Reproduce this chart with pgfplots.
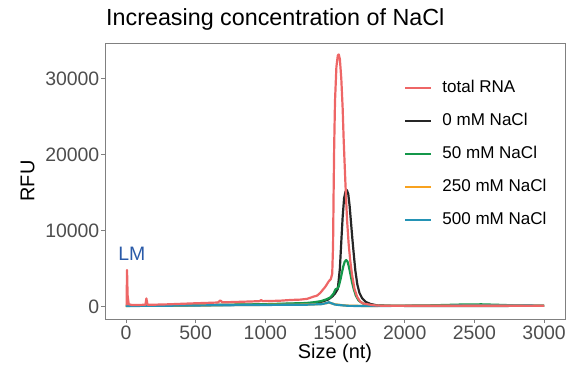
\documentclass[border=0pt]{standalone}
\usepackage{pgfplots}
\pgfplotsset{compat=1.18}
\usepackage{fontspec}
\setmainfont{Liberation Sans}
\definecolor{cred}{HTML}{EE6666}
\definecolor{cblack}{HTML}{262626}
\definecolor{cgreen}{HTML}{14974A}
\definecolor{corange}{HTML}{F8A21F}
\definecolor{cteal}{HTML}{2493B5}
\definecolor{lmblue}{HTML}{2A5AA8}
\definecolor{tickgray}{HTML}{4D4D4D}
\definecolor{framegray}{HTML}{808080}
\begin{document}
\begin{tikzpicture}[x=1bp,y=1bp]
\useasboundingbox (0,0) rectangle (566,367);
\begin{axis}[
  at={(105bp,48bp)}, anchor=south west,
  scale only axis, width=460bp, height=276bp,
  xmin=-150, xmax=3150, ymin=-1650, ymax=34650,
  xtick={0,500,1000,1500,2000,2500,3000},
  ytick={0,10000,20000,30000},
  scaled y ticks=false,
  /pgf/number format/assume math mode=true,
  /pgf/number format/1000 sep={},
  tick pos=left, tick align=outside,
  major tick length=4bp,
  tick style={framegray, line width=0.6bp},
  axis line style={framegray, line width=0.7bp},
  ticklabel style={font=\fontsize{19.5}{20}\selectfont, text=tickgray},
  xticklabel style={inner sep=1bp, yshift=-2bp},
  yticklabel style={inner sep=1.5bp},
  xlabel={Size (nt)},
  ylabel={RFU},
  label style={font=\fontsize{20}{21}\selectfont, text=black},
  xlabel style={inner sep=0pt, yshift=-3bp},
  ylabel style={inner sep=0pt, yshift=9bp},
  title={Increasing concentration of NaCl},
  title style={at={(0,1)}, anchor=base west, inner sep=0pt, yshift=12bp, xshift=1bp, font=\fontsize{23.4}{24}\selectfont},
  legend cell align=left,
  legend image code/.code={\draw[#1, line width=2.2bp] (0bp,0bp) -- (26bp,0bp);},
  legend style={draw=none, fill=none, inner sep=0pt, at={(0.650,0.864)}, anchor=north west,
    font=\fontsize{17.1}{18}\selectfont, row sep=18bp, column sep=10bp,
    nodes={inner xsep=0pt, inner ysep=0pt, text height=12bp, text depth=3bp}},
  every axis plot/.append style={line width=2.2bp, line join=round},
]
\addplot[cblack, forget plot] coordinates {
(0,90)(300,110)(600,170)(1000,260)(1290,380)(1350,480)(1400,600)(1450,900)(1480,1300)(1500,1700)(1520,2300)
(1535,5000)(1545,8500)(1555,11800)(1565,14200)(1575,15100)(1585,15300)(1595,14800)(1605,13200)(1615,11000)
(1625,8800)(1635,6800)(1646,4700)(1660,2900)(1675,1800)(1694,1100)(1720,600)(1754,330)(1800,150)(1900,80)
(2200,60)(2600,70)(3000,80)};
\addplot[cgreen, forget plot] coordinates {
(0,80)(300,120)(600,200)(1000,300)(1290,450)(1347,550)(1400,700)(1440,950)(1467,1200)(1490,1700)(1503,2250)
(1515,2350)(1526,2600)(1540,3600)(1550,4480)(1560,5300)(1570,5900)(1580,6100)(1590,5900)(1600,5200)
(1610,4300)(1622,3200)(1634,2300)(1650,1400)(1670,760)(1700,400)(1730,200)(1800,100)(2000,100)(2200,150)
(2400,250)(2550,280)(2700,200)(2800,130)(3000,100)};
\addplot[corange, forget plot] coordinates {
(0,70)(300,105)(600,160)(1000,210)(1290,250)(1400,320)(1440,440)(1455,520)(1470,440)(1500,280)(1550,170)
(1600,100)(1700,70)(2000,80)(2500,120)(3000,110)};
\addplot[cteal, forget plot] coordinates {
(0,60)(300,100)(600,150)(1000,200)(1290,230)(1400,300)(1440,450)(1455,550)(1470,450)(1500,250)(1550,150)
(1600,80)(1700,60)(2000,80)(2500,130)(3000,110)};
\addplot[cred, forget plot] coordinates {
(5,150)(8,4800)(12,1500)(20,300)(40,200)(100,200)(140,230)(147,1050)(155,230)(200,230)(300,280)(400,350)
(500,420)(600,480)(660,520)(677,800)(692,540)(800,600)(900,660)(960,700)(970,850)(982,700)(1100,750)
(1180,850)(1250,900)(1300,1000)(1347,1300)(1371,1420)(1395,1800)(1431,2600)(1455,3300)(1470,3600)
(1480,4300)(1486,8000)(1490,15000)(1494,21000)(1500,27000)(1510,31500)(1520,33000)(1527,33150)(1535,32500)
(1545,30000)(1555,26000)(1562,22000)(1574,16500)(1586,11500)(1598,8200)(1610,5900)(1622,4200)(1640,2300)
(1658,1300)(1680,650)(1700,400)(1730,300)(1780,150)(1830,100)(2000,80)(2500,100)(3000,100)};
\addlegendimage{cred}\addlegendentry{total RNA}
\addlegendimage{cblack}\addlegendentry{0 mM NaCl}
\addlegendimage{cgreen}\addlegendentry{50 mM NaCl}
\addlegendimage{corange}\addlegendentry{250 mM NaCl}
\addlegendimage{cteal}\addlegendentry{500 mM NaCl}
\node[text=lmblue, font=\fontsize{19.5}{20}\selectfont, inner sep=0pt] at (axis cs:42,6950) {LM};
\end{axis}
\end{tikzpicture}
\end{document}
